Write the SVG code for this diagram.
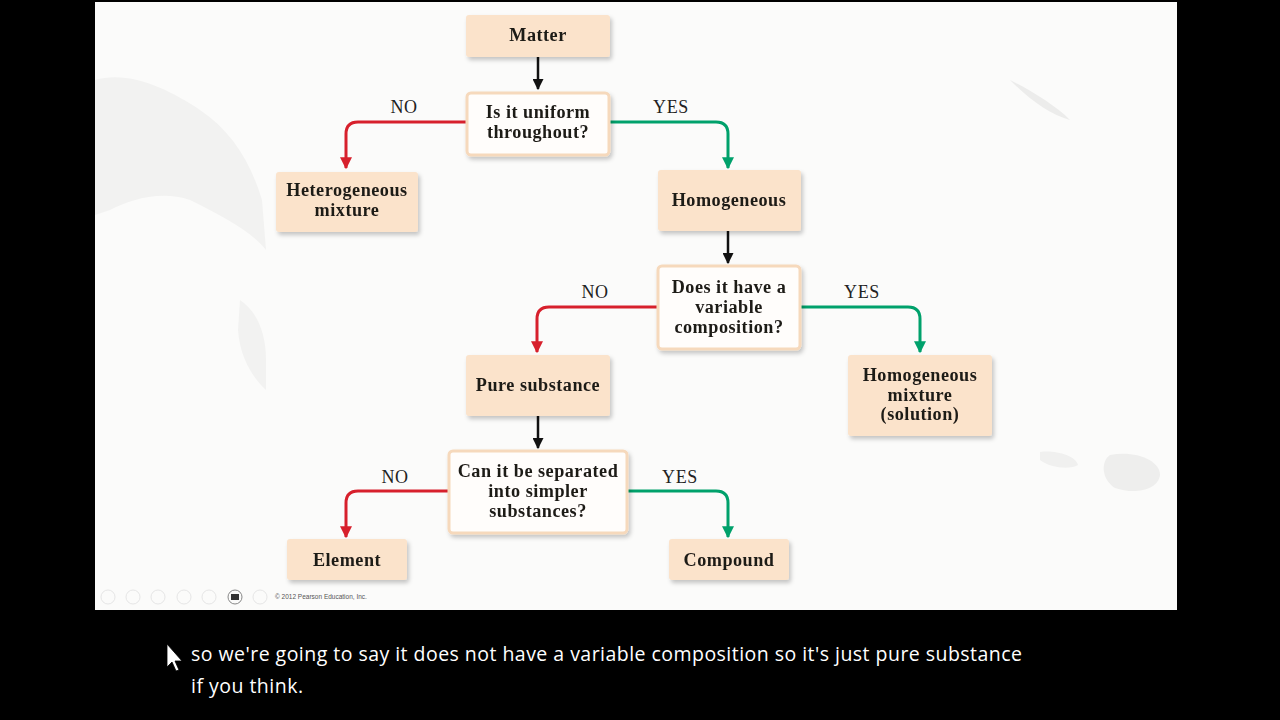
<svg xmlns="http://www.w3.org/2000/svg" width="1280" height="720" viewBox="0 0 1280 720">
<defs>
<style>
.box{fill:#fbe3cb;}
.q{fill:#fffdfb;stroke:#f6d9bc;stroke-width:3;}
.t{font-family:"Liberation Serif","Times New Roman",serif;font-weight:bold;font-size:18.2px;fill:#1e1a17;text-anchor:middle;letter-spacing:0.5px;}
.lbl{font-family:"Liberation Serif","Times New Roman",serif;font-size:18px;fill:#222;text-anchor:middle;letter-spacing:0.6px;}
.k{fill:none;stroke:#111;stroke-width:2.5;}
.r{fill:none;stroke:#d7202c;stroke-width:3;}
.g{fill:none;stroke:#00a16b;stroke-width:3;}
.cap{font-family:"Open Sans","Noto Sans",sans-serif;font-size:19.5px;fill:#ffffff;}
.ic{fill:none;stroke:#e6e6e6;stroke-width:1;}
</style>
<filter id="sh" x="-10%" y="-10%" width="125%" height="130%">
<feDropShadow dx="2" dy="3" stdDeviation="2" flood-color="#000" flood-opacity="0.22"/>
</filter>
<marker id="ak" viewBox="0 0 10 10" refX="9" refY="5" markerWidth="4.4" markerHeight="4.4" orient="auto" markerUnits="strokeWidth"><path d="M0,0 L10,5 L0,10 Z" fill="#111"/></marker>
<marker id="ar" viewBox="0 0 10 10" refX="9" refY="5" markerWidth="4" markerHeight="4" orient="auto" markerUnits="strokeWidth"><path d="M0,0 L10,5 L0,10 Z" fill="#d7202c"/></marker>
<marker id="ag" viewBox="0 0 10 10" refX="9" refY="5" markerWidth="4" markerHeight="4" orient="auto" markerUnits="strokeWidth"><path d="M0,0 L10,5 L0,10 Z" fill="#00a16b"/></marker>
</defs>
<rect x="0" y="0" width="1280" height="720" fill="#000"/>
<rect x="95" y="2" width="1082" height="608" fill="#fbfbfa"/>
<g id="background" fill="#f2f2f1">
<path d="M95,80 C130,70 170,90 200,110 C230,130 250,160 262,200 L266,250 C250,230 220,215 190,200 C160,190 130,200 110,210 L95,215 Z"/>
<path d="M240,300 C255,310 266,330 266,360 L266,390 C255,380 240,360 238,330 Z"/>
<path d="M1010,80 C1030,90 1055,105 1070,120 C1050,115 1030,100 1010,80 Z" fill="#ececeb"/>
<path d="M1110,455 C1135,450 1160,460 1160,475 C1158,490 1135,495 1115,488 C1102,480 1100,462 1110,455 Z" fill="#eeeeed"/>
<path d="M1040,452 C1055,450 1075,455 1078,465 C1070,470 1050,468 1040,460 Z" fill="#f0f0ef"/>
</g>
<g id="connectors">
<path class="k" d="M538,57 V89" marker-end="url(#ak)"/>
<path class="r" d="M466,122 H358 Q346,122 346,134 V168" marker-end="url(#ar)"/>
<path class="g" d="M610,122 H716 Q728,122 728,134 V168" marker-end="url(#ag)"/>
<path class="k" d="M728,231 V263" marker-end="url(#ak)"/>
<path class="r" d="M657,307 H549 Q537,307 537,319 V352" marker-end="url(#ar)"/>
<path class="g" d="M801,307 H908 Q920,307 920,319 V352" marker-end="url(#ag)"/>
<path class="k" d="M538,416 V448" marker-end="url(#ak)"/>
<path class="r" d="M448,491 H358 Q346,491 346,503 V537" marker-end="url(#ar)"/>
<path class="g" d="M628,491 H716 Q728,491 728,503 V537" marker-end="url(#ag)"/>
<text class="lbl" x="404" y="113">NO</text>
<text class="lbl" x="671" y="113">YES</text>
<text class="lbl" x="595" y="298">NO</text>
<text class="lbl" x="862" y="298">YES</text>
<text class="lbl" x="395" y="483">NO</text>
<text class="lbl" x="680" y="483">YES</text>
</g>
<g id="matter" filter="url(#sh)"><rect class="box" x="466" y="15" width="144" height="42" rx="3"/><text class="t" x="538" y="41">Matter</text></g>
<g id="uniform" filter="url(#sh)"><rect class="q" x="467" y="93" width="142" height="62" rx="4"/><text class="t" x="538" y="118">Is it uniform</text><text class="t" x="538" y="138">throughout?</text></g>
<g id="heterogeneous" filter="url(#sh)"><rect class="box" x="276" y="172" width="142" height="60" rx="3"/><text class="t" x="347" y="196">Heterogeneous</text><text class="t" x="347" y="216">mixture</text></g>
<g id="homogeneous" filter="url(#sh)"><rect class="box" x="658" y="170" width="143" height="61" rx="3"/><text class="t" x="729" y="206">Homogeneous</text></g>
<g id="variable" filter="url(#sh)"><rect class="q" x="658" y="266" width="142" height="83" rx="4"/><text class="t" x="729" y="293">Does it have a</text><text class="t" x="729" y="313">variable</text><text class="t" x="729" y="333">composition?</text></g>
<g id="pure" filter="url(#sh)"><rect class="box" x="466" y="355" width="144" height="61" rx="3"/><text class="t" x="538" y="391">Pure substance</text></g>
<g id="solution" filter="url(#sh)"><rect class="box" x="848" y="355" width="144" height="81" rx="3"/><text class="t" x="920" y="381">Homogeneous</text><text class="t" x="920" y="401">mixture</text><text class="t" x="920" y="420">(solution)</text></g>
<g id="separated" filter="url(#sh)"><rect class="q" x="449" y="451" width="178" height="82" rx="4"/><text class="t" x="538" y="477">Can it be separated</text><text class="t" x="538" y="497">into simpler</text><text class="t" x="538" y="517">substances?</text></g>
<g id="element" filter="url(#sh)"><rect class="box" x="287" y="539" width="120" height="41" rx="3"/><text class="t" x="347" y="566">Element</text></g>
<g id="compound" filter="url(#sh)"><rect class="box" x="669" y="539" width="120" height="41" rx="3"/><text class="t" x="729" y="566">Compound</text></g>
<g id="toolbar">
<circle class="ic" cx="108" cy="597" r="7"/>
<circle class="ic" cx="133" cy="597" r="7"/>
<circle class="ic" cx="158" cy="597" r="7"/>
<circle class="ic" cx="184" cy="597" r="7"/>
<circle class="ic" cx="209" cy="597" r="7"/>
<circle cx="235" cy="597" r="7" fill="none" stroke="#888" stroke-width="1"/>
<rect x="231" y="594" width="8" height="6" fill="#333"/>
<circle class="ic" cx="260" cy="597" r="7"/>
<text x="275" y="599" font-family="Liberation Sans,Arial,sans-serif" font-size="6.5" fill="#555">© 2012 Pearson Education, Inc.</text>
</g>
<g id="caption">
<path d="M167,644 L167,667 L172,662 L176,671 L179,670 L175,661 L182,661 Z" fill="#fff" stroke="#000" stroke-width="0.8"/>
<text class="cap" x="191" y="661" textLength="831" lengthAdjust="spacing">so we're going to say it does not have a variable composition so it's just pure substance</text>
<text class="cap" x="191" y="693" textLength="112" lengthAdjust="spacing">if you think.</text>
</g>
</svg>
